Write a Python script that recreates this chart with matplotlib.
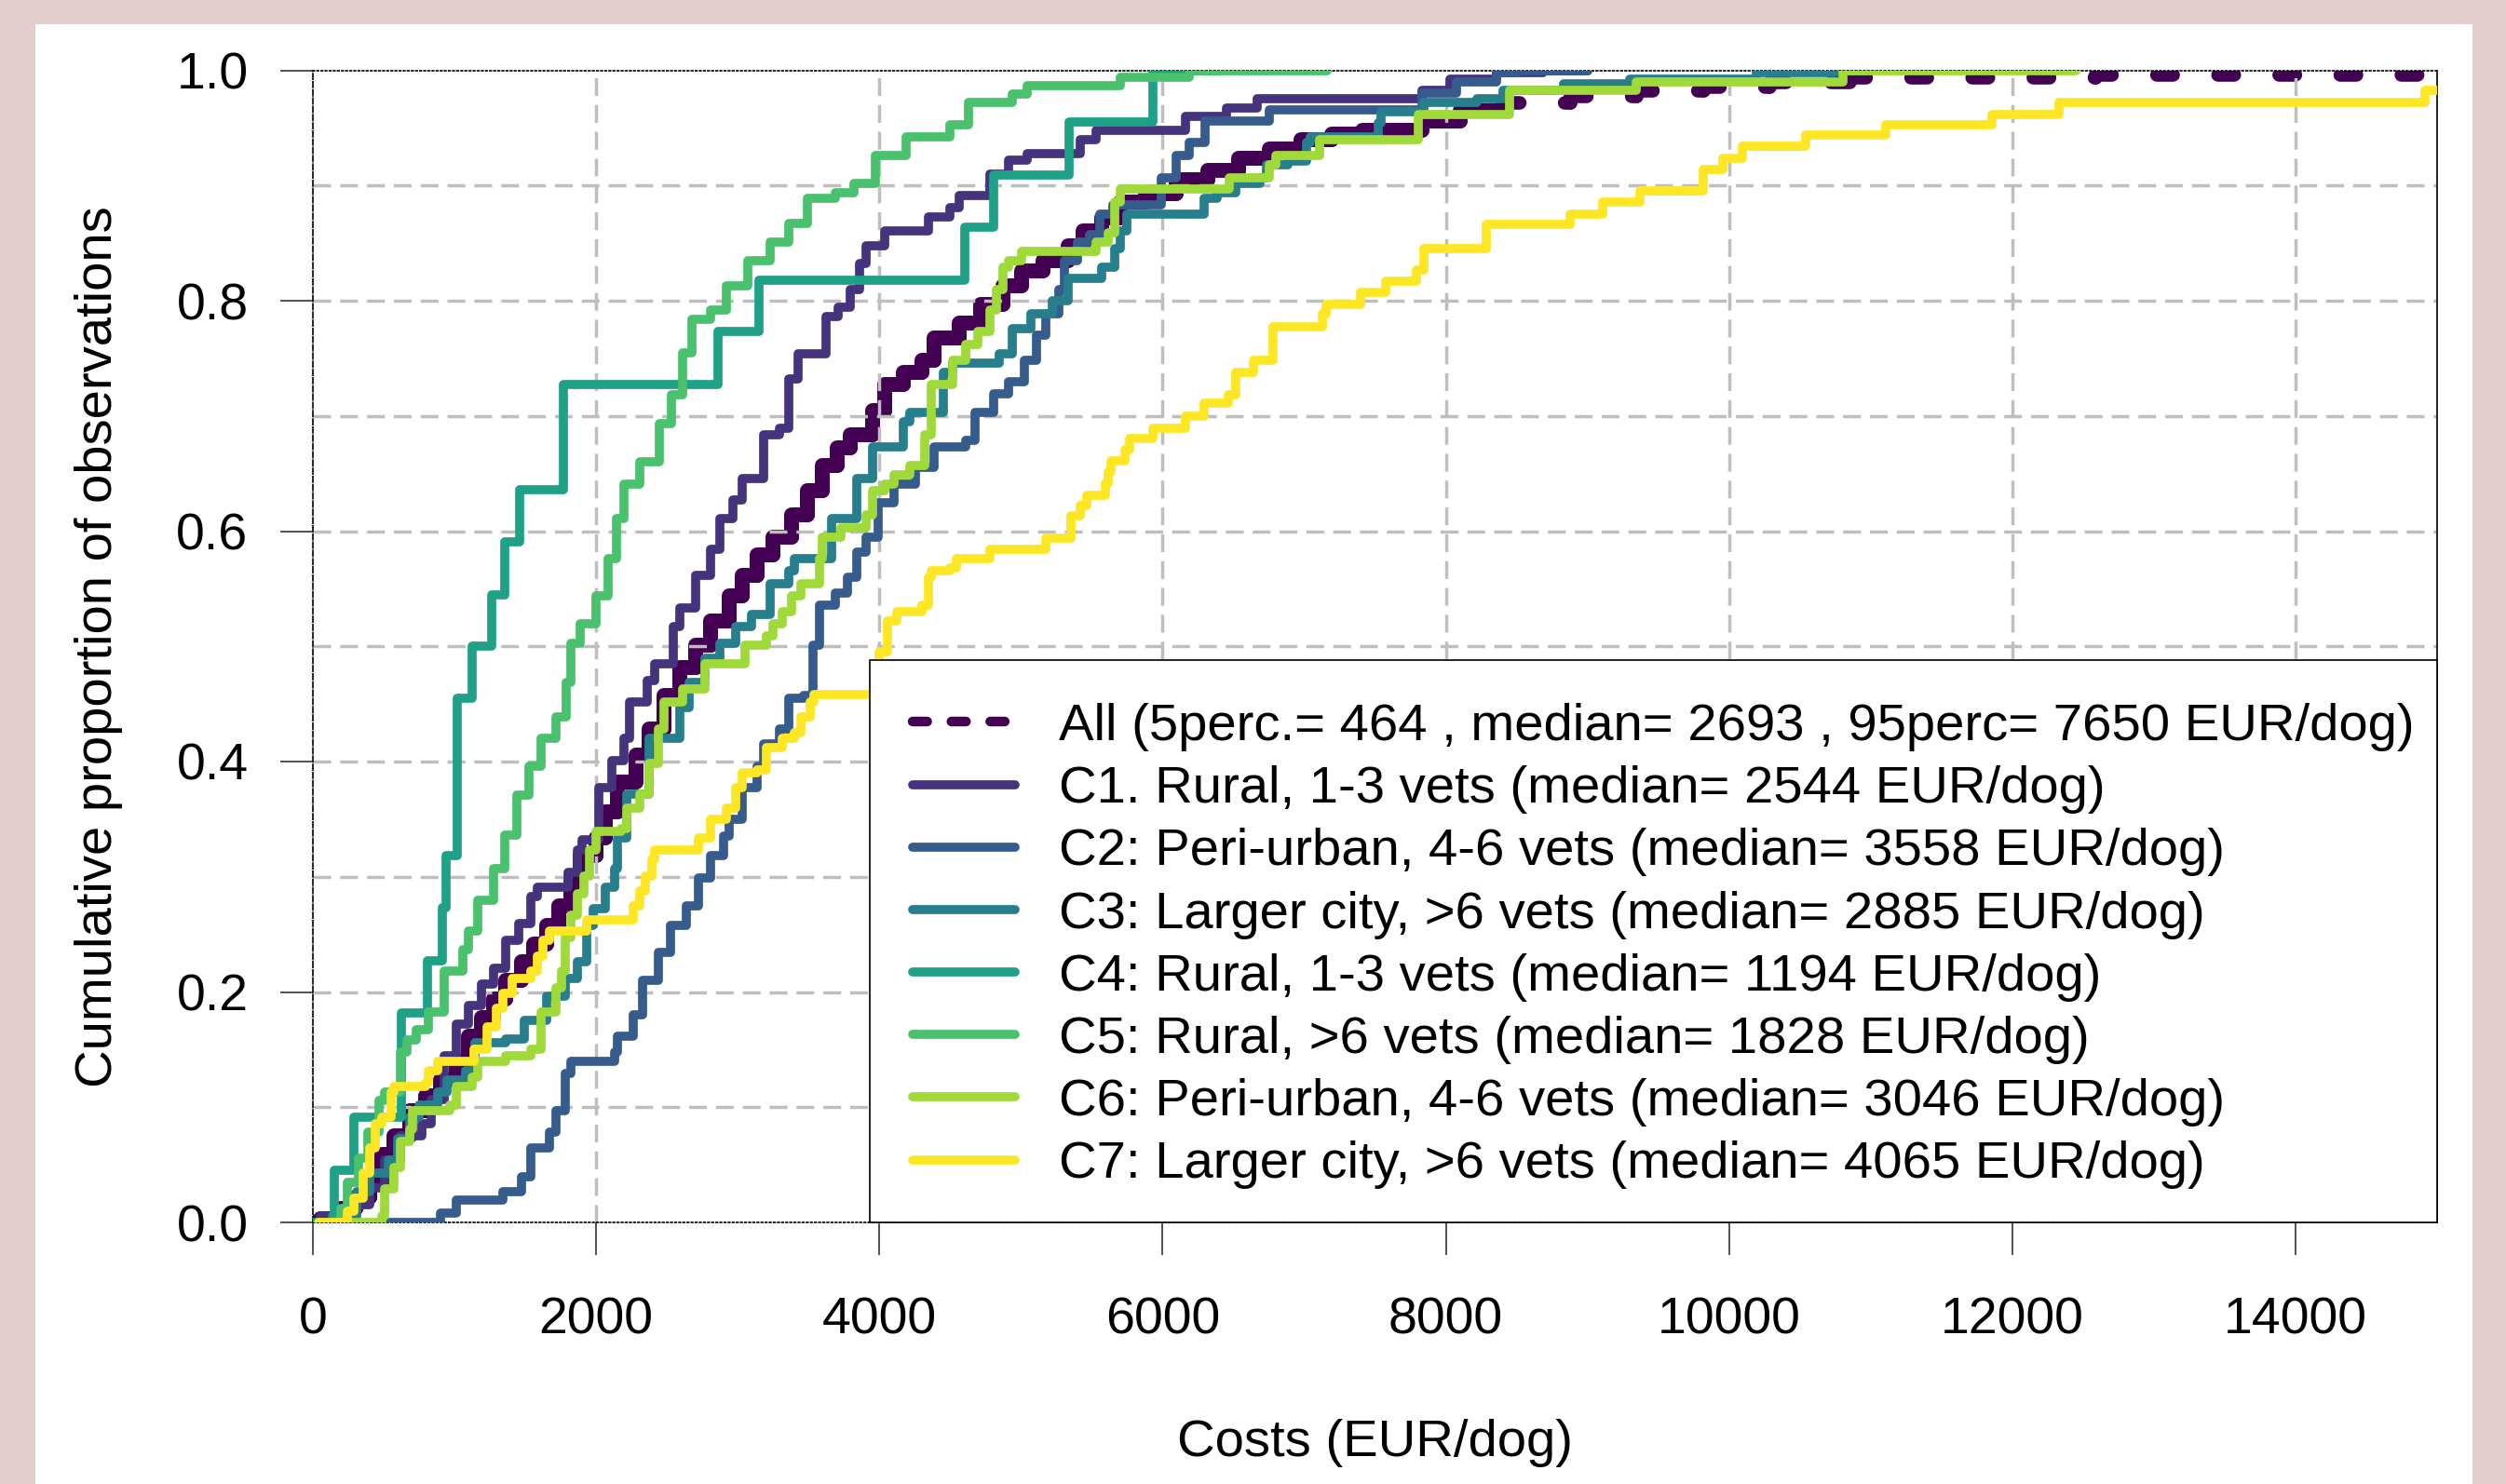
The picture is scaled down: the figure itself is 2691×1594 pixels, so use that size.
import numpy as np
import matplotlib
matplotlib.use("Agg")
import matplotlib.pyplot as plt
from matplotlib.collections import LineCollection
from matplotlib.lines import Line2D
from matplotlib.patches import Rectangle

plt.rcParams['font.family'] = ['Liberation Sans', 'DejaVu Sans']

# ECDF step corners: (cost in EUR/dog, cumulative proportion)
all_pts = [(0, 0), (50, 0.003), (200, 0.012), (300, 0.022), (401, 0.035), (487, 0.059), (572, 0.075),
           (684, 0.097), (796, 0.11), (901, 0.124), (1013, 0.14), (1098, 0.162), (1190, 0.178),
           (1276, 0.194), (1361, 0.21), (1473, 0.226), (1559, 0.242), (1651, 0.258), (1736, 0.275),
           (1822, 0.296), (1888, 0.318), (1999, 0.334), (2065, 0.356), (2151, 0.382), (2282, 0.406),
           (2374, 0.428), (2480, 0.457), (2591, 0.482), (2703, 0.501), (2808, 0.522), (2940, 0.544),
           (3032, 0.562), (3137, 0.579), (3249, 0.595), (3380, 0.614), (3492, 0.635), (3598, 0.657),
           (3700, 0.672), (3795, 0.684), (3953, 0.705), (4038, 0.727), (4170, 0.738), (4301, 0.748),
           (4387, 0.768), (4564, 0.781), (4716, 0.797), (4874, 0.813), (5005, 0.826), (5156, 0.835),
           (5334, 0.848), (5439, 0.861), (5571, 0.872), (5702, 0.886), (5880, 0.893), (6097, 0.905),
           (6320, 0.913), (6537, 0.924), (6754, 0.932), (6978, 0.94), (7195, 0.945), (7412, 0.948),
           (7833, 0.956), (8100, 0.965), (8405, 0.972), (8879, 0.978), (9346, 0.983), (9819, 0.986),
           (10286, 0.99), (10852, 0.994), (12588, 0.996), (15000, 0.996)]

c1_pts = [(0, 0), (50, 0.006), (250, 0.015), (400, 0.03), (506, 0.054), (618, 0.075), (770, 0.086),
          (835, 0.107), (927, 0.145), (1013, 0.172), (1098, 0.188), (1190, 0.207), (1276, 0.221),
          (1361, 0.245), (1453, 0.259), (1539, 0.283), (1585, 0.291), (1802, 0.304), (1868, 0.323),
          (1901, 0.332), (2019, 0.377), (2111, 0.401), (2197, 0.42), (2236, 0.452), (2360, 0.47),
          (2414, 0.485), (2545, 0.517), (2591, 0.533), (2703, 0.562), (2808, 0.584), (2874, 0.611),
          (2966, 0.627), (3032, 0.646), (3183, 0.684), (3295, 0.689), (3361, 0.732), (3427, 0.754),
          (3624, 0.786), (3709, 0.794), (3795, 0.81), (3861, 0.832), (3907, 0.848), (4038, 0.861),
          (4347, 0.873), (4499, 0.881), (4564, 0.891), (4782, 0.91), (4913, 0.922), (5044, 0.928),
          (5420, 0.94), (5531, 0.948), (6163, 0.96), (6452, 0.967), (6669, 0.975), (7833, 0.983),
          (8031, 0.992), (8359, 0.998), (8688, 1.0), (9000, 1.0)]

c2_pts = [(500, 0), (901, 0.008), (1013, 0.019), (1342, 0.027), (1473, 0.04), (1539, 0.065),
          (1671, 0.078), (1717, 0.097), (1782, 0.129), (1822, 0.14), (2131, 0.148), (2151, 0.162),
          (2263, 0.18), (2328, 0.21), (2440, 0.234), (2526, 0.258), (2637, 0.275), (2723, 0.299),
          (2808, 0.318), (2900, 0.335), (2940, 0.35), (3032, 0.377), (3137, 0.396), (3183, 0.415),
          (3295, 0.428), (3361, 0.455), (3466, 0.457), (3532, 0.501), (3578, 0.536), (3690, 0.546),
          (3775, 0.56), (3841, 0.582), (3907, 0.595), (3992, 0.625), (4104, 0.641), (4255, 0.655),
          (4387, 0.673), (4610, 0.679), (4676, 0.703), (4808, 0.719), (4913, 0.73), (5025, 0.748),
          (5110, 0.77), (5176, 0.789), (5268, 0.81), (5308, 0.835), (5400, 0.851), (5485, 0.857),
          (5560, 0.875), (5650, 0.883), (5990, 0.907), (6097, 0.926), (6189, 0.937), (6300, 0.956),
          (6754, 0.966), (7833, 0.98), (8077, 0.99), (8359, 0.998), (8500, 1.0), (9000, 1.0)]

c3_pts = [(0, 0), (138, 0.006), (309, 0.027), (401, 0.043), (533, 0.054), (598, 0.073), (684, 0.091),
          (750, 0.102), (881, 0.113), (947, 0.124), (1079, 0.132), (1144, 0.156), (1361, 0.159),
          (1493, 0.175), (1651, 0.196), (1782, 0.212), (1868, 0.226), (1934, 0.258), (1980, 0.272),
          (2065, 0.291), (2131, 0.307), (2151, 0.334), (2217, 0.372), (2374, 0.42), (2591, 0.447),
          (2657, 0.469), (2769, 0.49), (2874, 0.503), (2986, 0.517), (3098, 0.528), (3229, 0.554),
          (3361, 0.566), (3400, 0.576), (3663, 0.611), (3841, 0.646), (3953, 0.673), (4170, 0.695),
          (4216, 0.703), (4453, 0.738), (4518, 0.746), (4847, 0.754), (4939, 0.776), (5071, 0.789),
          (5222, 0.80), (5334, 0.819), (5571, 0.829), (5663, 0.845), (5702, 0.861), (5748, 0.875),
          (6294, 0.889), (6386, 0.894), (6518, 0.902), (6689, 0.907), (6735, 0.918), (6886, 0.921),
          (7018, 0.937), (7044, 0.942), (7524, 0.954), (7544, 0.964), (7846, 0.972), (8221, 0.975),
          (8405, 0.983), (8833, 0.988), (9300, 0.992), (10194, 0.998), (10753, 1.0), (11000, 1.0)]

c4_pts = [(0, 0), (150, 0.045), (290, 0.091), (625, 0.182), (810, 0.227), (915, 0.273), (940, 0.318),
          (1020, 0.455), (1126, 0.5), (1260, 0.545), (1355, 0.591), (1460, 0.636), (1770, 0.727),
          (2860, 0.773), (3150, 0.818), (4600, 0.864), (4810, 0.909), (5340, 0.955), (5930, 1.0),
          (6400, 1.0)]

c5_pts = [(150, 0), (200, 0.012), (245, 0.035), (322, 0.056), (388, 0.078), (467, 0.106), (506, 0.113),
          (618, 0.148), (664, 0.158), (730, 0.167), (816, 0.183), (927, 0.218), (1059, 0.237),
          (1098, 0.253), (1164, 0.28), (1276, 0.307), (1355, 0.336), (1440, 0.371), (1526, 0.396),
          (1611, 0.42), (1717, 0.439), (1789, 0.469), (1822, 0.503), (1888, 0.52), (1999, 0.544),
          (2085, 0.576), (2144, 0.611), (2197, 0.641), (2308, 0.66), (2446, 0.693), (2532, 0.718),
          (2611, 0.755), (2677, 0.784), (2808, 0.792), (2920, 0.813), (3071, 0.835), (3229, 0.851),
          (3361, 0.867), (3492, 0.889), (3690, 0.894), (3821, 0.902), (3972, 0.926), (4190, 0.942),
          (4499, 0.953), (4630, 0.972), (4939, 0.979), (5044, 0.987), (5702, 0.994), (6189, 1.0),
          (7160, 1.0)]

c6_pts = [(224, 0), (487, 0.006), (506, 0.029), (572, 0.048), (618, 0.07), (684, 0.081), (704, 0.097),
          (967, 0.102), (1013, 0.118), (1125, 0.126), (1164, 0.14), (1361, 0.145), (1539, 0.15),
          (1611, 0.183), (1717, 0.204), (1756, 0.218), (1782, 0.247), (1822, 0.267), (1868, 0.285),
          (1914, 0.301), (1953, 0.323), (1999, 0.339), (2177, 0.342), (2217, 0.36), (2308, 0.372),
          (2374, 0.398), (2440, 0.428), (2480, 0.452), (2611, 0.463), (2769, 0.485), (3052, 0.501),
          (3203, 0.509), (3249, 0.52), (3315, 0.53), (3380, 0.544), (3446, 0.554), (3578, 0.576),
          (3598, 0.595), (3729, 0.603), (3907, 0.614), (3953, 0.635), (4038, 0.641), (4104, 0.649),
          (4216, 0.657), (4321, 0.684), (4367, 0.727), (4518, 0.748), (4610, 0.762), (4696, 0.773),
          (4782, 0.792), (4828, 0.81), (4874, 0.829), (4913, 0.835), (5005, 0.843), (5531, 0.851),
          (5617, 0.859), (5663, 0.886), (5702, 0.897), (6472, 0.907), (6754, 0.918), (6800, 0.926),
          (7110, 0.94), (7807, 0.962), (8451, 0.983), (9346, 0.99), (10806, 1.0), (12450, 1.0)]

c7_pts = [(40, 0), (245, 0.01), (290, 0.021), (355, 0.043), (401, 0.065), (441, 0.086), (487, 0.091),
          (552, 0.113), (572, 0.118), (796, 0.121), (816, 0.132), (881, 0.14), (1140, 0.15),
          (1230, 0.17), (1296, 0.186), (1342, 0.199), (1407, 0.212), (1539, 0.218), (1585, 0.231),
          (1624, 0.245), (1671, 0.253), (1934, 0.263), (2263, 0.275), (2308, 0.288), (2348, 0.301),
          (2394, 0.315), (2414, 0.323), (2723, 0.334), (2808, 0.35), (2920, 0.36), (2986, 0.377),
          (3032, 0.39), (3137, 0.393), (3203, 0.412), (3315, 0.42), (3400, 0.425), (3446, 0.439),
          (3512, 0.452), (3538, 0.458), (3960, 0.475), (4000, 0.495), (4060, 0.522), (4124, 0.53),
          (4301, 0.536), (4347, 0.56), (4367, 0.566), (4499, 0.568), (4545, 0.576), (4782, 0.584),
          (5176, 0.594), (5354, 0.613), (5420, 0.622), (5466, 0.631), (5597, 0.642), (5617, 0.651),
          (5637, 0.661), (5735, 0.671), (5768, 0.68), (5932, 0.689), (6163, 0.70), (6294, 0.711),
          (6465, 0.718), (6518, 0.738), (6643, 0.748), (6781, 0.777), (7130, 0.789), (7156, 0.797),
          (7399, 0.807), (7577, 0.817), (7794, 0.827), (7846, 0.845), (8287, 0.866), (8879, 0.875),
          (9109, 0.886), (9372, 0.895), (9819, 0.914), (9957, 0.924), (10096, 0.934), (10543, 0.944),
          (11108, 0.953), (11858, 0.962), (12332, 0.972), (14916, 0.983), (15000, 0.983)]

labels = ["All (5perc.= 464 , median= 2693 , 95perc= 7650 EUR/dog)",
          "C1. Rural, 1-3 vets (median= 2544 EUR/dog)",
          "C2: Peri-urban, 4-6 vets (median= 3558 EUR/dog)",
          "C3: Larger city, >6 vets (median= 2885 EUR/dog)",
          "C4: Rural, 1-3 vets (median= 1194 EUR/dog)",
          "C5: Rural, >6 vets (median= 1828 EUR/dog)",
          "C6: Peri-urban, 4-6 vets (median= 3046 EUR/dog)",
          "C7: Larger city, >6 vets (median= 4065 EUR/dog)"]
colors = ['#440154', '#46337E', '#365C8D', '#277F8E', '#1FA187', '#4AC16D', '#9FDA3A', '#FDE725']
clusters = [c1_pts, c2_pts, c3_pts, c4_pts, c5_pts, c6_pts, c7_pts]

x_ticks = [0, 2000, 4000, 6000, 8000, 10000, 12000, 14000]
y_ticks = [0.0, 0.2, 0.4, 0.6, 0.8, 1.0]

W, H = 2691, 1594
fig = plt.figure(figsize=(W / 100, H / 100), dpi=100, facecolor='#E4CDCD')
fig.add_artist(Rectangle((38 / W, 0), (2655 - 38) / W, 1 - 26 / H, transform=fig.transFigure,
                         facecolor='white', edgecolor='none', zorder=0))

ax = fig.add_axes([336 / W, 1 - 1313 / H, (2617 - 336) / W, (1313 - 75.5) / H])
ax.set_facecolor('white')

# overall ECDF: each step segment drawn separately with a dotted pattern (R style),
# the dense part looks solid because the steps are tiny there
arr_all = np.array(all_pts)
segs = []
for i in range(len(arr_all) - 1):
    x0, y0 = arr_all[i]
    x1, y1 = arr_all[i + 1]
    segs.append([(x0, y0), (x1, y0)])
    segs.append([(x1, y0), (x1, y1)])
lc = LineCollection(segs, colors=colors[0], linewidths=10.5, linestyles=[(0, (1.2, 3.3))], zorder=1)
lc.set_capstyle('round')
ax.add_collection(lc)
dense = arr_all[:, 0] <= 8405
ax.step(arr_all[dense, 0], arr_all[dense, 1], where='post', color=colors[0], lw=11.5,
        solid_joinstyle='round', solid_capstyle='round', zorder=1)

# grid
grid_kw = dict(color='#BEBEBE', lw=2.5, ls=(0, (5.5, 2.8)), zorder=1.5)
for yv in np.arange(0.1, 0.95, 0.1):
    ax.axhline(yv, **grid_kw)
for xv in x_ticks[1:]:
    ax.axvline(xv, **grid_kw)

# clusters
for i, pts in enumerate(clusters):
    arr = np.array(pts)
    ax.step(arr[:, 0], arr[:, 1], where='post', color=colors[i + 1], lw=7,
            solid_joinstyle='round', solid_capstyle='round', zorder=2 + i)

ax.set_xlim(0, 15000)
ax.set_ylim(0, 1)
ax.set_xticks(x_ticks)
ax.set_xticklabels([str(v) for v in x_ticks])
ax.set_yticks(y_ticks)
ax.set_yticklabels(['%.1f' % v for v in y_ticks])
ax.tick_params(axis='both', labelsize=40, length=25, width=1.2, color='#333333', direction='out')
ax.tick_params(axis='x', pad=32)
ax.tick_params(axis='y', pad=25)

for s in ['top', 'bottom', 'left', 'right']:
    ax.spines[s].set_color('black')
    ax.spines[s].set_linewidth(1.2)
ax.spines['top'].set_linestyle(':')
ax.spines['bottom'].set_linestyle(':')
ax.spines['left'].set_linestyle('--')

ax.set_xlabel("Costs (EUR/dog)", fontsize=40.5)
ax.xaxis.set_label_coords(0.5, -0.1915)
ax.xaxis.label.set_va('center')
ax.set_ylabel("Cumulative proportion of observations", fontsize=40.5)
ax.yaxis.set_label_coords(-0.1008, 0.5)
ax.yaxis.label.set_va('center')

# legend box (R style: bottom-right corner of the plot region)
box = Rectangle((3932, 0), 15000 - 3932, 0.488, transform=ax.transData, facecolor='white',
                edgecolor='black', lw=1.2, zorder=19, clip_on=False)
ax.add_patch(box)

handles = [Line2D([], [], color=colors[0], lw=7.5, linestyle=(0, (1.5, 2.5)), dash_capstyle='round')]
for c in colors[1:]:
    handles.append(Line2D([], [], color=c, lw=7, solid_capstyle='round'))
leg = ax.legend(handles, labels, loc='upper left', bbox_to_anchor=(980 / W, 1 - 755 / H),
                bbox_transform=fig.transFigure, borderaxespad=0, borderpad=0,
                fontsize=40.5, frameon=False, labelspacing=0.27, handlelength=1.96,
                handletextpad=0.84)
leg.set_zorder(20)

fig.savefig('out.png', dpi=100, facecolor=fig.get_facecolor())
